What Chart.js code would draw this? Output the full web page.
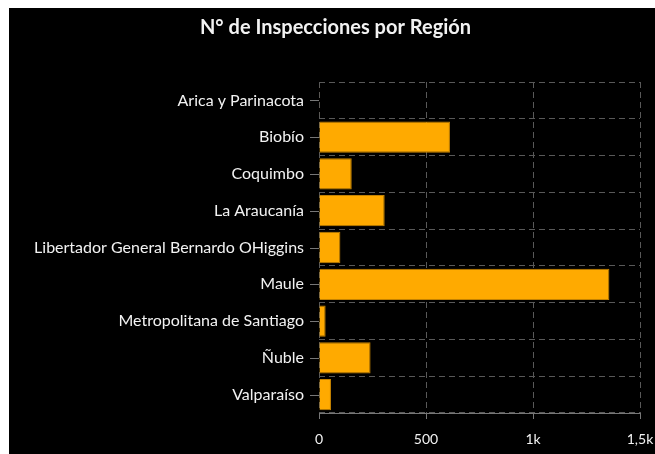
<!DOCTYPE html>
<html>
<head>
<meta charset="utf-8">
<script src="https://cdn.jsdelivr.net/npm/chart.js@4"></script>
<style>
    html, body { margin: 0; padding: 0; background: #fff; }
    .chart-wrap {
        position: absolute;
        left: 9px;
        top: 8px;
        width: 646px;
        height: 446px;
        background: #000;
    }
</style>
</head>
<body>
<div class="chart-wrap">
    <canvas id="regionChart" width="646" height="446"></canvas>
</div>
<script>
// --- Data ---
const regions = [
    'Arica y Parinacota',
    'Biobío',
    'Coquimbo',
    'La Araucanía',
    'Libertador General Bernardo OHiggins',
    'Maule',
    'Metropolitana de Santiago',
    'Ñuble',
    'Valparaíso'
];
const inspections = [3, 612, 153, 307, 100, 1357, 31, 241, 56];
const xTicks = [0, 500, 1000, 1500];
const xTickLabels = ['0', '500', '1k', '1,5k'];

// --- Chart ---
document.addEventListener('DOMContentLoaded', () => {
    const gridColor = '#595959';
    const textColor = '#f2f2f2';

    // tick marks at category centres (grid lines stay on the boundaries)
    const centreTicks = {
        id: 'centreTicks',
        afterDraw: (chart) => {
            const y = chart.scales.y;
            const ctx = chart.ctx;
            const left = chart.chartArea.left;
            ctx.save();
            ctx.strokeStyle = '#777';
            ctx.lineWidth = 1;
            regions.forEach((r, i) => {
                const py = Math.round(y.getPixelForValue(i)) + 0.5;
                ctx.beginPath();
                ctx.moveTo(left - 9, py);
                ctx.lineTo(left, py);
                ctx.stroke();
            });
            ctx.restore();
        }
    };

    new Chart(document.getElementById('regionChart'), {
        type: 'bar',
        data: {
            labels: regions,
            datasets: [{
                label: 'Inspecciones',
                data: inspections,
                backgroundColor: '#ffaa00',
                borderColor: '#c48200',
                borderWidth: 1,
                barPercentage: 0.85,
                categoryPercentage: 1
            }]
        },
        options: {
            indexAxis: 'y',
            responsive: false,
            animation: false,
            // left padding nudges the title to the right, y width compensates
            layout: { padding: { left: 22, right: 15, top: 0, bottom: 0 } },
            plugins: {
                legend: { display: false },
                tooltip: { enabled: false },
                title: {
                    display: true,
                    text: 'N° de Inspecciones por Región',
                    color: textColor,
                    font: { family: 'Lato', size: 20, weight: 'bold' },
                    padding: { top: 8, bottom: 42 }
                }
            },
            scales: {
                x: {
                    min: 0,
                    max: 1500,
                    afterBuildTicks: (scale) => {
                        scale.ticks = xTicks.map(v => ({ value: v }));
                    },
                    afterFit: (scale) => {
                        scale.height = 41;
                        scale.paddingRight = 0;
                    },
                    ticks: {
                        color: textColor,
                        font: { family: 'Lato', size: 14 },
                        padding: 12,
                        callback: (value) => xTickLabels[xTicks.indexOf(value)]
                    },
                    grid: {
                        color: gridColor,
                        tickColor: '#777',
                        tickLength: 6,
                        tickBorderDash: [0, 0]
                    },
                    border: { display: true, color: '#777', dash: [6, 4] }
                },
                y: {
                    afterFit: (scale) => { scale.width = 288; },
                    ticks: {
                        color: textColor,
                        font: { family: 'Lato', size: 16 },
                        padding: 15
                    },
                    grid: {
                        color: gridColor,
                        offset: true,
                        drawTicks: false
                    },
                    border: { display: false, dash: [6, 4] }
                }
            }
        },
        plugins: [centreTicks]
    });
});
</script>
</body>
</html>
